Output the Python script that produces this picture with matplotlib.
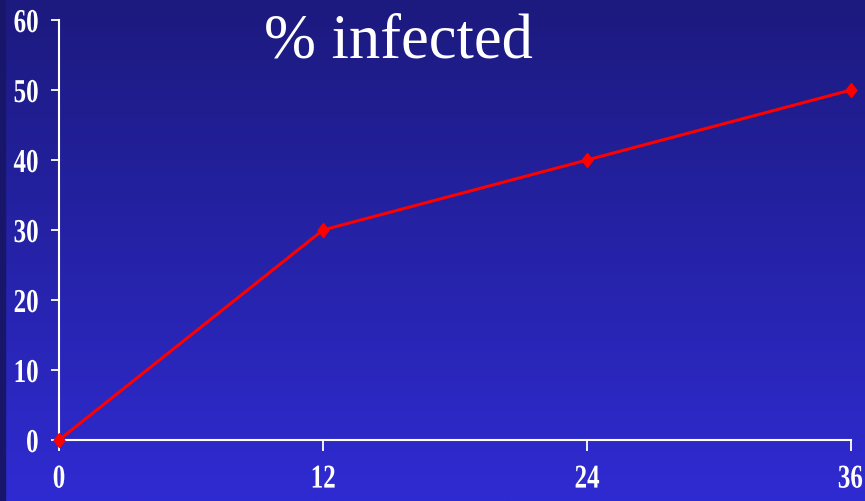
import matplotlib.pyplot as plt
import numpy as np
from matplotlib.colors import LinearSegmentedColormap
from matplotlib import patheffects
from matplotlib.transforms import Affine2D, ScaledTranslation

# Data
hours = [0, 12, 24, 36]
infected = [0, 30, 40, 50]
x_ticks = [0, 12, 24, 36]
y_ticks = [0, 10, 20, 30, 40, 50, 60]


class Squeeze(patheffects.AbstractPathEffect):
    """Narrow the glyphs horizontally, like the condensed slide font."""

    def __init__(self, sx, anchor='center'):
        super().__init__()
        self.sx = sx
        self.anchor = anchor

    def draw_path(self, renderer, gc, tpath, affine, rgbFace=None):
        ext = tpath.get_extents()
        cx = ext.x1 if self.anchor == 'right' else (ext.x0 + ext.x1) / 2
        t = Affine2D().translate(-cx, 0).scale(self.sx, 1).translate(cx, 0) + affine
        renderer.draw_path(gc, tpath, t, rgbFace)


fig = plt.figure(figsize=(8.65, 5.01), dpi=100)

# Blue gradient background (darker at the top)
bg = fig.add_axes([0, 0, 1, 1], zorder=-1)
grad = LinearSegmentedColormap.from_list('bg', ['#1c1a7e', '#2f2bd2'])
bg.imshow(np.linspace(0, 1, 256).reshape(-1, 1), aspect='auto', cmap=grad,
          extent=[0, 1, 0, 1], origin='upper')
bg.axvspan(0, 0.006, color='#18166a')
bg.set_axis_off()

ax = fig.add_axes([59 / 865, 61 / 501, 792 / 865, 420 / 501])
ax.patch.set_alpha(0)

# slightly tall diamond marker
diamond = [(0, 1), (0.78, 0), (0, -1), (-0.78, 0), (0, 1)]
ax.plot(hours, infected, color='#ff0000', linewidth=2.2, marker=diamond,
        markersize=10, clip_on=False, zorder=5)

ax.set_xlim(0, 36)
ax.set_ylim(0, 60)
ax.set_xticks(x_ticks)
ax.set_yticks(y_ticks)

for side in ['top', 'right']:
    ax.spines[side].set_visible(False)
for side in ['left', 'bottom']:
    ax.spines[side].set_color('white')
    ax.spines[side].set_linewidth(1.5)

ax.tick_params(axis='y', colors='white', length=6, width=1.3, pad=8.5)
ax.tick_params(axis='x', colors='white', length=8, width=1.3, pad=9)
for lbl in ax.get_xticklabels():
    lbl.set_fontfamily('Liberation Serif')
    lbl.set_fontweight('bold')
    lbl.set_fontsize(24)
    lbl.set_path_effects([Squeeze(0.75)])
for lbl in ax.get_yticklabels():
    lbl.set_fontfamily('Liberation Serif')
    lbl.set_fontweight('bold')
    lbl.set_fontsize(24)
    lbl.set_path_effects([Squeeze(0.75, anchor='right')])

# keep the last x label inside the picture: right-align it at the edge
last = ax.get_xticklabels()[-1]
last.set_horizontalalignment('right')
last.set_path_effects([Squeeze(0.75, anchor='right')])
last.set_transform(last.get_transform()
                   + ScaledTranslation(12 / 100, 0, fig.dpi_scale_trans))

fig.text(398 / 865, 1 - 57 / 501, '% infected', color='white',
         fontfamily='Liberation Serif', fontsize=45, ha='center', va='baseline')

fig.savefig('out.png', dpi=100)
